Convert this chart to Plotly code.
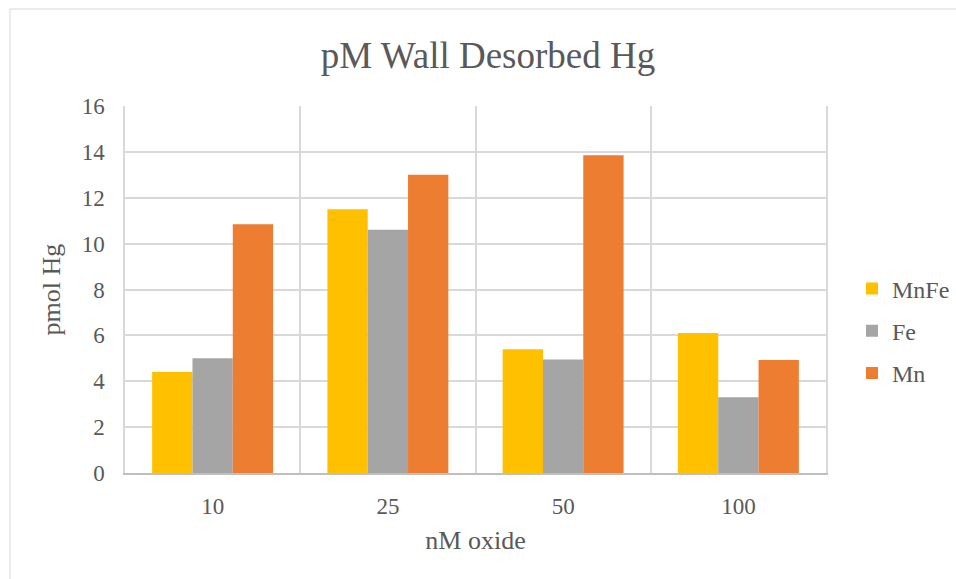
import plotly.graph_objects as go

# Oxide concentrations (nM) and desorbed Hg (pmol) per oxide type
categories = ["10", "25", "50", "100"]
mnfe = [4.4, 11.5, 5.4, 6.1]
fe = [5.0, 10.6, 4.95, 3.3]
mn = [10.85, 13.0, 13.85, 4.93]

series = [
    ("MnFe", mnfe, "#FFC000"),
    ("Fe", fe, "#A5A5A5"),
    ("Mn", mn, "#ED7D31"),
]

serif = "Liberation Serif"
text_color = "#595959"

fig = go.Figure()
for name, vals, color in series:
    fig.add_trace(go.Bar(
        x=categories, y=vals, name=name, legendgroup=name,
        marker=dict(color=color, line=dict(width=0)),
    ))

W, H = 956, 579
L, R, T, B = 125, 130, 106, 106
pw, ph = W - L - R, H - T - B

# light frame around the chart area
fig.add_shape(
    type="rect", xref="paper", yref="paper",
    x0=(10 - L) / pw, x1=(W + 20 - L) / pw,
    y0=-(H + 20 - (H - B)) / ph, y1=((H - B) - 9) / ph,
    line=dict(color="#d9d9d9", width=1), fillcolor="rgba(0,0,0,0)", layer="below",
)

fig.update_layout(
    width=W, height=H,
    margin=dict(l=L, r=R, t=T, b=B, autoexpand=False),
    paper_bgcolor="white", plot_bgcolor="white",
    barmode="group", bargap=0.31, bargroupgap=0,
    font=dict(family=serif, color=text_color, size=22),
    title=dict(
        text="pM Wall Desorbed Hg", font=dict(size=37, color=text_color, family=serif),
        xref="container", x=488 / W, xanchor="center",
        yref="container", y=1 - 55 / H, yanchor="middle",
    ),
    legend=dict(
        x=(852 - L) / pw, y=(473 - 331) / ph, xanchor="left", yanchor="middle",
        font=dict(size=24, color=text_color, family=serif), tracegroupgap=8,
        bgcolor="rgba(0,0,0,0)",
    ),
    xaxis=dict(
        title=dict(text="nM oxide", font=dict(size=26, family=serif), standoff=12),
        tickson="boundaries", showgrid=True, gridcolor="#d9d9d9", gridwidth=1.5,
        showline=True, linecolor="#bfbfbf", linewidth=1.5, mirror=False,
        ticks="", tickfont=dict(size=23, family=serif), ticklabelstandoff=12,
    ),
    yaxis=dict(
        title=dict(text="pmol Hg", font=dict(size=26, family=serif), standoff=14),
        range=[0, 16], dtick=2, showgrid=True, gridcolor="#d9d9d9", gridwidth=1.5,
        showline=True, linecolor="#d9d9d9", linewidth=1.5, mirror=True,
        zeroline=False, ticks="", tickfont=dict(size=23, family=serif), ticklabelstandoff=14,
    ),
)

fig.write_html("out.html")
